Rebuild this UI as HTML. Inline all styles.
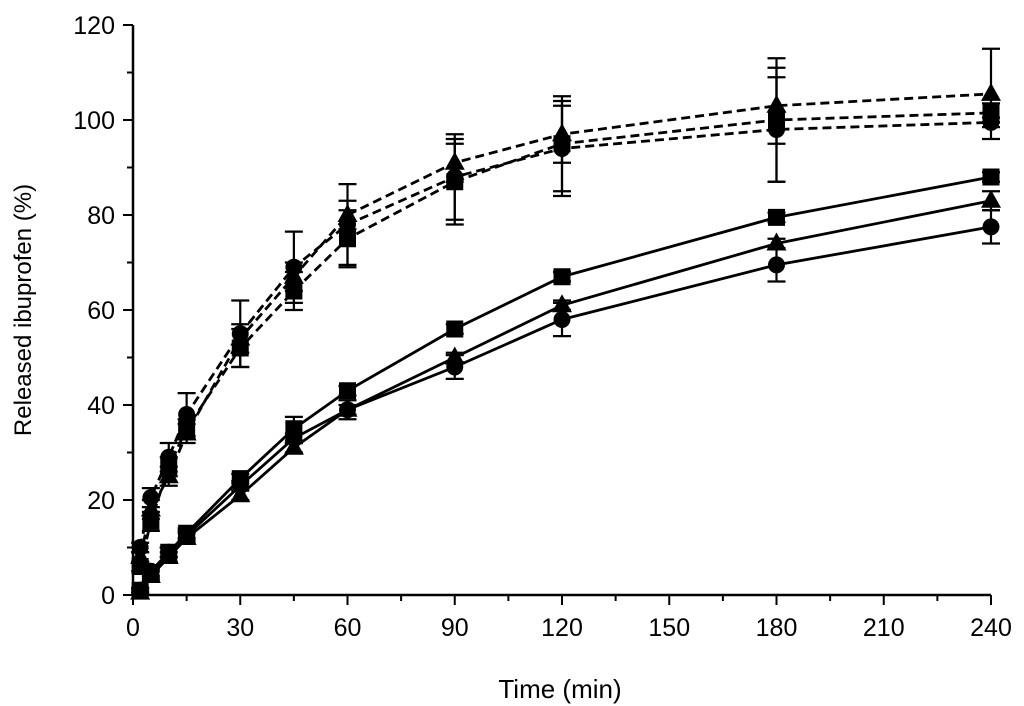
<!DOCTYPE html>
<html><head><meta charset="utf-8"><style>
body{margin:0;background:#fff;}
svg{display:block;font-family:"Liberation Sans",Arial,sans-serif;}
</style></head><body>
<svg id="chart" width="1024" height="706" viewBox="0 0 1024 706" xmlns="http://www.w3.org/2000/svg"></svg>
<script>
const times = [2, 5, 10, 15, 30, 45, 60, 90, 120, 180, 240];
const dashCircle = [10, 20.5, 29, 38, 55, 69, 78, 88, 94, 98, 99.5];
const dashTriangle = [8, 18, 25, 34, 54, 67, 80, 91, 97, 103, 105.5];
const dashSquare = [6, 15.5, 27, 35, 52, 64, 75, 87, 95, 100, 101.5];
const solidSquare = [1, 4.5, 9, 13, 24.5, 35, 43, 56, 67, 79.5, 88];
const solidTriangle = [0.5, 4, 8, 12, 21, 31, 39, 50, 61, 74, 83];
const solidCircle = [1, 5, 9, 12.5, 23, 33, 39, 48, 58, 69.5, 77.5];
const errDashCircle = [1, 2, 3, 4.5, 7, 7.5, 8.5, 9, 10, 11, 1];
const errDashTriangle = [1, 2, 2, 2, 3, 3, 3, 4, 6, 8, 9.5];
const errDashSquare = [1, 2, 2, 2, 4, 4, 6, 9, 10, 13, 2];
const errSolidSquare = [0.5, 1, 1, 1, 1, 2.5, 1, 1, 1, 1, 1];
const errSolidTriangle = [0.5, 1, 1, 1, 1, 1, 1, 1, 1, 1, 2];
const errSolidCircle = [0.5, 1, 1, 1, 1, 1, 2, 2.5, 3.5, 3.5, 3.5];
const xTicks = [0, 30, 60, 90, 120, 150, 180, 210, 240];
const yTicks = [0, 20, 40, 60, 80, 100, 120];

const NS = "http://www.w3.org/2000/svg";
const svg = document.getElementById('chart');
const X0 = 133, X1 = 991, Y0 = 595, Y1 = 25;
const xs = v => X0 + (v / 240) * (X1 - X0);
const ys = v => Y0 - (v / 120) * (Y0 - Y1);
function mk(tag, attrs, parent) {
  const e = document.createElementNS(NS, tag);
  for (const k in attrs) e.setAttribute(k, attrs[k]);
  (parent || svg).appendChild(e);
  return e;
}
const axes = mk('g', {});


mk('line', {x1: X0, y1: Y1, x2: X0, y2: Y0 + 1, stroke: '#000', 'stroke-width': 2.5}, axes);
mk('line', {x1: X0 - 1, y1: Y0, x2: X1, y2: Y0, stroke: '#000', 'stroke-width': 2.5}, axes);
yTicks.forEach(t => {
  mk('line', {x1: X0 - 10, y1: ys(t), x2: X0, y2: ys(t), stroke: '#000', 'stroke-width': 2}, axes);
  if (t < 120) mk('line', {x1: X0 - 6, y1: ys(t + 10), x2: X0, y2: ys(t + 10), stroke: '#000', 'stroke-width': 2}, axes);
  const tx = mk('text', {x: X0 - 18, y: ys(t) + 9, 'text-anchor': 'end', 'font-size': 25}, axes);
  tx.textContent = t;
  
  
});
xTicks.forEach(t => {
  mk('line', {x1: xs(t), y1: Y0, x2: xs(t), y2: Y0 + 10, stroke: '#000', 'stroke-width': 2}, axes);
  if (t < 240) mk('line', {x1: xs(t + 15), y1: Y0, x2: xs(t + 15), y2: Y0 + 6, stroke: '#000', 'stroke-width': 2}, axes);
  const tx = mk('text', {x: xs(t), y: Y0 + 41, 'text-anchor': 'middle', 'font-size': 25}, axes);
  tx.textContent = t;
  
  
});
const xt = mk('text', {x: 560, y: 698, 'text-anchor': 'middle', 'font-size': 26});
xt.textContent = 'Time (min)';


const yt = mk('text', {x: 0, y: 0, 'text-anchor': 'middle', 'font-size': 24, transform: 'translate(31,310) rotate(-90)'});
yt.textContent = 'Released ibuprofen (%)';



function series(name, vals, errs, marker, dashed) {
  const g = mk('g', {});
  
  
  const pts = times.map((t, i) => xs(t) + ',' + ys(vals[i])).join(' ');
  mk('polyline', {points: pts, fill: 'none', stroke: '#000', 'stroke-width': 2.8, 'stroke-dasharray': dashed ? '9 5' : 'none'}, g);
  times.forEach((t, i) => {
    const x = xs(t), y = ys(vals[i]), e = errs[i] / 120 * (Y0 - Y1);
    mk('line', {x1: x, y1: y - e, x2: x, y2: y + e, stroke: '#000', 'stroke-width': 2.2}, g);
    mk('line', {x1: x - 9, y1: y - e, x2: x + 9, y2: y - e, stroke: '#000', 'stroke-width': 2.2}, g);
    mk('line', {x1: x - 9, y1: y + e, x2: x + 9, y2: y + e, stroke: '#000', 'stroke-width': 2.2}, g);
    let m;
    if (marker === 'circle') m = mk('circle', {cx: x, cy: y, r: 8.5, fill: '#000'}, g);
    else if (marker === 'square') m = mk('rect', {x: x - 8.5, y: y - 8.5, width: 17, height: 17, fill: '#000'}, g);
    else m = mk('polygon', {points: `${x},${y - 11} ${x + 10},${y + 7} ${x - 10},${y + 7}`, fill: '#000'}, g);
    
    
  });
}
series('dashed-circle-series', dashCircle, errDashCircle, 'circle', true);
series('dashed-triangle-series', dashTriangle, errDashTriangle, 'triangle', true);
series('dashed-square-series', dashSquare, errDashSquare, 'square', true);
series('solid-square-series', solidSquare, errSolidSquare, 'square', false);
series('solid-triangle-series', solidTriangle, errSolidTriangle, 'triangle', false);
series('solid-circle-series', solidCircle, errSolidCircle, 'circle', false);
</script>
</body></html>
